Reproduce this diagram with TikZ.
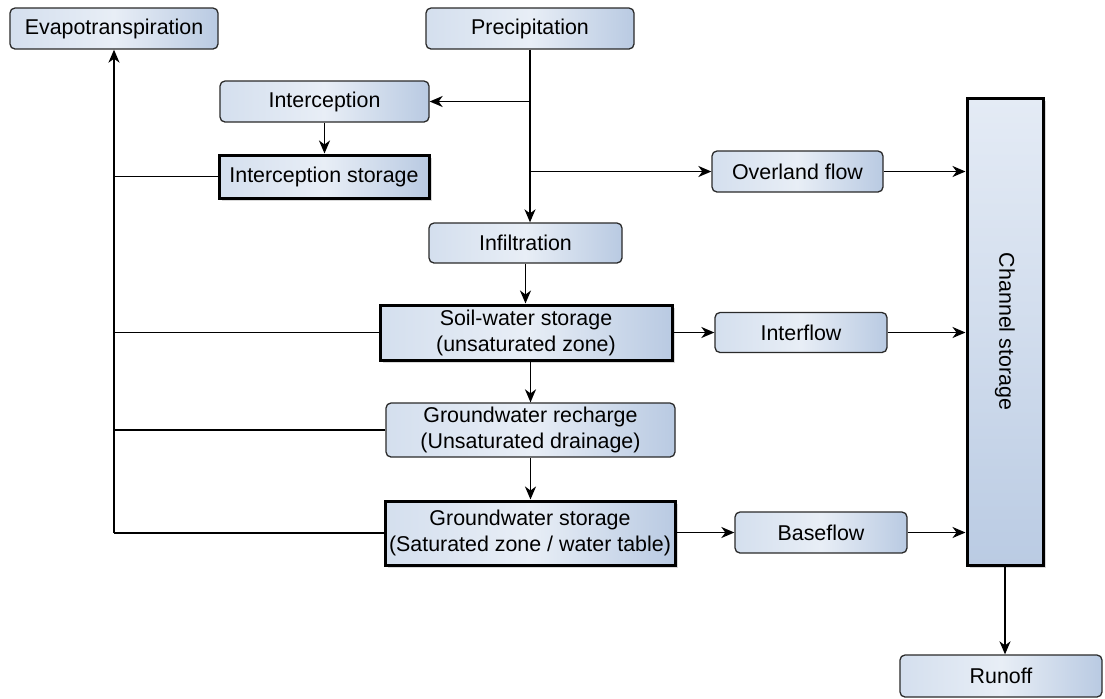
\documentclass[tikz,border=0pt]{standalone}
\usepackage{fontspec}
\setmainfont{Liberation Sans}
\usetikzlibrary{arrows.meta,shadows}

\definecolor{boxL}{HTML}{D4DFEE}
\definecolor{boxM}{HTML}{E8EEF6}
\definecolor{boxR}{HTML}{B9CAE2}
\definecolor{chanT}{HTML}{E4EBF5}
\definecolor{chanB}{HTML}{BACBE3}
\definecolor{edge}{HTML}{2A2A2A}

\tikzset{
  sz/.style 2 args={minimum width=#1*0.5pt, minimum height=#2*0.5pt},
  flowbox/.style={draw=edge, line width=0.65pt, rounded corners=2.5pt,
    left color=boxL, right color=boxR, middle color=boxM,
    inner sep=1pt, align=center,
    font=\fontsize{10.7}{13}\selectfont},
  storebox/.style={flowbox, draw=black, line width=1.5pt, rounded corners=0pt,
    drop shadow={shadow xshift=1.6pt, shadow yshift=-1.6pt, opacity=0.25, fill=black!60}},
  chanbox/.style={storebox, top color=chanT, bottom color=chanB, middle color=chanT!55!chanB},
  arr/.style={draw=black, line width=0.85pt, -{Stealth[length=6.5pt, width=5.5pt, inset=2pt]}},
  link/.style={draw=black, line width=0.85pt}
}

\begin{document}
\begin{tikzpicture}[x=0.5pt, y=-0.5pt]
  \useasboundingbox (0,0) rectangle (1105,698);

  % sources, stores and flows
  \node[flowbox, sz={208}{41}] (evap)     at (114,28.5)   {Evapotranspiration};
  \node[flowbox, sz={208}{41}] (precip)   at (530,28.5)   {Precipitation};
  \node[flowbox, sz={209}{41}] (interc)   at (324.5,101.5) {Interception};
  \node[storebox, sz={210}{43}] (istore)  at (324,176.5)  {Interception storage};
  \node[flowbox, sz={171}{41}] (overland) at (797.5,171.5) {Overland flow};
  \node[flowbox, sz={193}{40}] (infil)    at (525.5,243)  {Infiltration};
  \node[storebox, sz={292}{55}] (soil)    at (526,332.5)  {Soil-water storage\\(unsaturated zone)};
  \node[flowbox, sz={172}{40}] (interflow) at (801,332.5) {Interflow};
  \node[flowbox, sz={289}{54}] (recharge) at (530.5,430)  {Groundwater recharge\\(Unsaturated drainage)};
  \node[storebox, sz={290}{64}] (gstore)  at (530,533)    {Groundwater storage\\(Saturated zone / water table)};
  \node[flowbox, sz={172}{41}] (baseflow) at (821,532.5)  {Baseflow};
  \node[chanbox, sz={76}{467}] (channel)  at (1005,331.5) {};
  \node[rotate=-90, font=\fontsize{10.7}{13}\selectfont] (chanlabel) at (channel.center) {Channel storage};
  \node[flowbox, sz={202}{42}] (runoff)   at (1001,676)   {Runoff};

  % precipitation splits
  \draw[arr] (precip.south) -- (precip.south |- infil.north);
  \draw[arr] (precip.south |- interc.east) -- (interc.east);
  \draw[arr] (precip.south |- overland.west) -- (overland.west);
  \draw[arr] (interc.south) -- (interc.south |- istore.north);

  % vertical chain through the soil column
  \draw[arr] (infil.south) -- (infil.south |- soil.north);
  \draw[arr] (recharge.north |- soil.south) -- (recharge.north);
  \draw[arr] (recharge.south) -- (recharge.south |- gstore.north);

  % lateral flows into the channel
  \draw[arr] (soil.east) -- (interflow.west);
  \draw[arr] (gstore.east |- baseflow.west) -- (baseflow.west);
  \draw[arr] (overland.east) -- (channel.west |- overland.east);
  \draw[arr] (interflow.east) -- (channel.west |- interflow.east);
  \draw[arr] (baseflow.east) -- (channel.west |- baseflow.east);
  \draw[arr] (channel.south) -- (channel.south |- runoff.north);

  % evaporation returns
  \draw[link] (istore.west) -- (evap.south |- istore.west);
  \draw[link] (soil.west) -- (evap.south |- soil.west);
  \draw[link] (recharge.west) -- (evap.south |- recharge.west);
  \draw[link] (gstore.west) -- (evap.south |- gstore.west);
  \draw[arr] (evap.south |- gstore.west) -- (evap.south);
\end{tikzpicture}
\end{document}
